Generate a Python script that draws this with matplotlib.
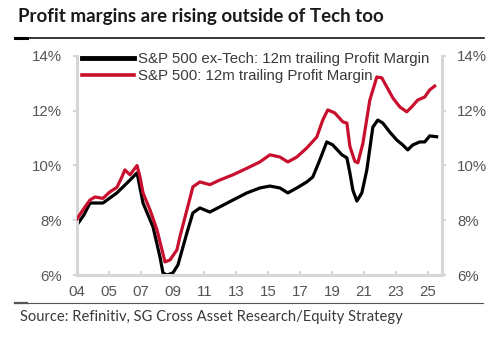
import numpy as np
import matplotlib
matplotlib.use("Agg")
import matplotlib.pyplot as plt
from matplotlib.lines import Line2D

# ---- data (decimal years, % margins) ----
sp_years = [2004.00, 2004.36, 2004.78, 2005.08, 2005.56, 2005.98, 2006.40, 2006.70, 2006.88,
            2007.19, 2007.61, 2007.79, 2007.97, 2008.39, 2008.81, 2009.11, 2009.29, 2009.59,
            2010.01, 2010.19, 2010.61, 2010.97, 2011.39, 2011.99, 2012.59, 2013.38, 2014.22,
            2015.00, 2015.60, 2016.20, 2016.68, 2017.22, 2017.82, 2018.42, 2018.78, 2019.08,
            2019.50, 2019.99, 2020.23, 2020.41, 2020.71, 2020.89, 2021.19, 2021.61, 2022.03,
            2022.33, 2022.63, 2022.99, 2023.41, 2023.83, 2024.13, 2024.49, 2024.91, 2025.21,
            2025.51]
sp_margin = [8.05, 8.38, 8.74, 8.85, 8.80, 9.04, 9.20, 9.58, 9.84,
             9.66, 10.00, 9.58, 9.00, 8.38, 7.65, 6.92, 6.48, 6.55,
             6.92, 7.40, 8.38, 9.22, 9.40, 9.30, 9.47, 9.66, 9.90,
             10.13, 10.39, 10.31, 10.13, 10.31, 10.64, 11.04, 11.66, 12.03,
             11.92, 11.59, 11.55, 10.70, 10.15, 10.10, 10.80, 12.39, 13.23,
             13.20, 12.87, 12.47, 12.14, 11.96, 12.14, 12.39, 12.50, 12.76,
             12.90]

ex_years = [2004.00, 2004.42, 2004.78, 2005.56, 2006.40, 2007.19, 2007.61, 2007.97, 2008.57,
            2008.99, 2009.17, 2009.41, 2009.77, 2010.07, 2010.61, 2010.97, 2011.39, 2011.99,
            2012.59, 2013.38, 2014.22, 2015.00, 2015.60, 2016.20, 2016.68, 2017.22, 2017.82,
            2018.18, 2018.60, 2019.02, 2019.38, 2019.93, 2020.23, 2020.41, 2020.59, 2020.83,
            2021.13, 2021.43, 2021.79, 2022.09, 2022.39, 2022.81, 2023.23, 2023.59, 2023.89,
            2024.19, 2024.61, 2024.91, 2025.21, 2025.63]
ex_margin = [7.83, 8.20, 8.63, 8.63, 9.00, 9.47, 9.73, 8.63, 7.76,
             6.66, 6.08, 6.00, 6.08, 6.37, 7.54, 8.27, 8.45, 8.30,
             8.49, 8.74, 9.00, 9.18, 9.25, 9.18, 9.00, 9.18, 9.40,
             9.58, 10.20, 10.86, 10.75, 10.39, 10.28, 9.73, 9.10, 8.70,
             9.00, 9.84, 11.40, 11.66, 11.55, 11.22, 10.93, 10.75, 10.57,
             10.75, 10.86, 10.86, 11.08, 11.05]

x_tick_labels = ['04', '05', '07', '09', '11', '13', '15', '17', '19', '21', '23', '25']
y_ticks = [6, 8, 10, 12, 14]
y_tick_labels = ['6%', '8%', '10%', '12%', '14%']

series_labels = ['S&P 500 ex-Tech: 12m trailing Profit Margin',
                 'S&P 500: 12m trailing Profit Margin']
title = 'Profit margins are rising outside of Tech too'
source = 'Source: Refinitiv, SG Cross Asset Research/Equity Strategy'

RED = '#c8102e'
GRID_GRAY = '#d6d6d6'
TXT = '#555555'

plt.rcParams['font.family'] = ['Liberation Sans', 'DejaVu Sans']

fig = plt.figure(figsize=(5.0, 3.54), dpi=100)
ax = fig.add_axes([0.154, 0.223, 0.730, 0.619])

ax.plot(sp_years, sp_margin, color=RED, lw=2.3, solid_joinstyle='round', zorder=3)
ax.plot(ex_years, ex_margin, color='black', lw=2.3, solid_joinstyle='round', zorder=2)

ax.set_ylim(6, 14)
ax.set_xlim(2004.0, 2025.95)
step = 700 / 365.25
xt = [2004.0 + i * step for i in range(len(x_tick_labels))]
ax.set_xticks(xt)
ax.set_xticklabels(x_tick_labels)
ax.set_yticks(y_ticks)
ax.set_yticklabels(y_tick_labels)

for s in ['left', 'right', 'bottom']:
    ax.spines[s].set_color(GRID_GRAY)
    ax.spines[s].set_linewidth(2.2)
ax.spines['top'].set_visible(False)

ax.tick_params(axis='both', colors=GRID_GRAY, labelcolor=TXT, labelsize=10.8,
               length=3, width=1.5)
ax.tick_params(axis='x', direction='in', pad=7)
ax.tick_params(axis='y', direction='out', pad=8, right=True, labelright=True)

handles = [Line2D([], [], color='black', lw=3.5), Line2D([], [], color=RED, lw=2.6)]
leg = ax.legend(handles, series_labels, loc='upper left', bbox_to_anchor=(0.0, 1.038),
                frameon=False, fontsize=10.8, handlelength=3.5, handletextpad=0.3,
                labelspacing=0.2, borderaxespad=0.0, borderpad=0.3)
for t in leg.get_texts():
    t.set_color('#3a3a3a')

fig.text(0.036, 0.952, title, fontsize=13.5, fontweight='bold', family=['Lato', 'DejaVu Sans'],
         color='#1a1a1a', va='center', ha='left')
fig.add_artist(Line2D([0.03, 0.968], [0.893, 0.893], color='black', lw=1.1,
                      transform=fig.transFigure))
fig.add_artist(Line2D([0.03, 0.054], [0.893, 0.893], color='black', lw=2.2,
                      transform=fig.transFigure))
fig.add_artist(Line2D([0.03, 0.966], [0.144, 0.144], color='#555555', lw=0.8,
                      transform=fig.transFigure))
fig.add_artist(Line2D([0.03, 0.054], [0.144, 0.144], color='#555555', lw=1.6,
                      transform=fig.transFigure))
fig.text(0.04, 0.104, source, fontsize=10.6, family=['Lato', 'DejaVu Sans'],
         color='#3a3a3a', va='center', ha='left')

fig.savefig('out.png', dpi=100, facecolor='white')
